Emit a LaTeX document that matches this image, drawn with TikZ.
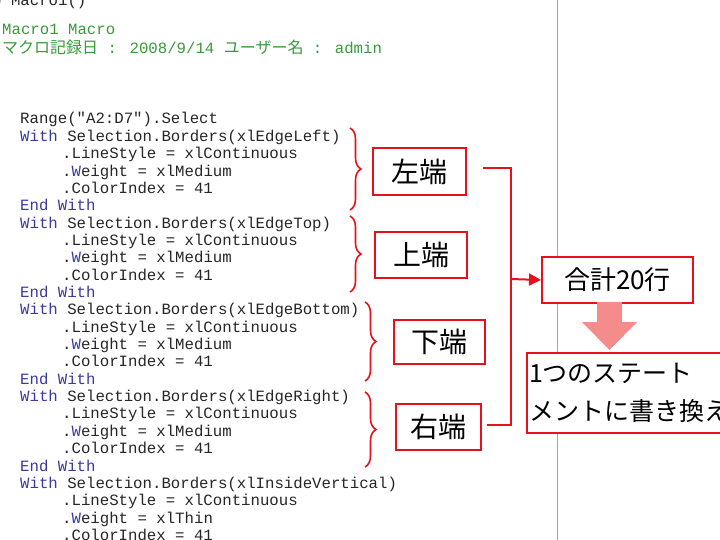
\documentclass[tikz,border=0pt]{standalone}
\usepackage{fontspec}
\setmainfont{Liberation Sans}
\newfontfamily\code{Liberation Mono}
\newfontfamily\jp{Noto Sans CJK JP}
\usetikzlibrary{decorations.pathreplacing,arrows.meta}
\definecolor{kw}{HTML}{3A3AA0}
\definecolor{cm}{HTML}{3A9A3A}
\definecolor{rd}{HTML}{E8101A}
\definecolor{pk}{HTML}{F58C8C}
\tikzset{
  cl/.style={anchor=base west,inner sep=0pt,font=\code\fontsize{15.7}{16}\selectfont,text=black!85},
  lbl/.style={draw=rd,line width=2pt,fill=white,font=\jp\fontsize{28}{30}\selectfont,inner sep=0pt,anchor=north west},
  br/.style={draw=rd,line width=1.6pt,decorate,decoration={brace,amplitude=11pt}},
  con/.style={draw=rd,line width=2pt}
}
\newcommand{\kwd}[1]{\textcolor{kw}{#1}}
\begin{document}
\begin{tikzpicture}[x=1pt,y=-1pt]
\useasboundingbox (0,0) rectangle (720,540);
\fill[white] (0,0) rectangle (720,540);
\draw[gray!70,line width=1pt] (557,0) -- (557,540);
\node[cl] (h0) at (-8,6) {b Macro1()};
\node[cl,text=cm] (h1) at (2,35) {Macro1 Macro};
\node[cl,text=cm] (h2) at (2,54) {{\jp\fontsize{16}{17}\selectfont マクロ記録日} : 2008/9/14  {\jp\fontsize{16}{17}\selectfont ユーザー名} : admin};
\node[cl] (l0) at (20,124) {Range("A2:D7").Select};
\foreach \e [count=\i from 0] in {xlEdgeLeft,xlEdgeTop,xlEdgeBottom,xlEdgeRight,xlInsideVertical}{
  \pgfmathsetmacro\yy{124+(1+5*\i)*17.35}
  \node[cl] (w\i) at (20,\yy) {\kwd{With} Selection.Borders(\e)};
  \node[cl] (s\i) at (62,\yy+17.35) {.LineStyle = xlContinuous};
  \node[cl] (t\i) at (62,\yy+34.7) {.\kwd{W}eight = xl\ifnum\i=4 Thin\else Medium\fi};
  \node[cl] (c\i) at (62,\yy+52.05) {.ColorIndex = 41};
  \ifnum\i<4 \node[cl] (e\i) at (20,\yy+69.4) {\kwd{End With}};\fi
}
\draw[br] (350,128) -- (350,210);
\draw[br] (350,216) -- (350,292);
\draw[br] (365,302) -- (365,381);
\draw[br] (365,392) -- (365,467);
\node[lbl,minimum width=93pt,minimum height=47pt] (L) at (372,147) {左端};
\node[lbl,minimum width=92pt,minimum height=46pt] (T) at (374,231) {上端};
\node[lbl,minimum width=91pt,minimum height=44pt] (B) at (393,319) {下端};
\node[lbl,minimum width=85pt,minimum height=46pt] (R) at (395,403) {右端};
\node[lbl,minimum width=151pt,minimum height=46pt,font=\jp\fontsize{26}{28}\selectfont] (S) at (541,256) {合計20行};
\node[lbl,minimum width=200pt,minimum height=80pt,align=left,text width=196pt,inner xsep=2pt,font=\jp\fontsize{25}{38}\selectfont] (N) at (526,352) {1つのステート\\メントに書き換え};
\coordinate (a) at (483,168);
\coordinate (b) at (487,425);
\draw[con] (a) -- (511,168) -- (511,425) -- (b);
\draw[con,-{Triangle[length=12pt,width=12pt]}] (511,279) -- (S.west);
\fill[pk] (597,302) -- (622,302) -- (622,322) -- (637,322) -- (609.5,350) -- (582,322) -- (597,322) -- cycle;
\end{tikzpicture}
\end{document}
